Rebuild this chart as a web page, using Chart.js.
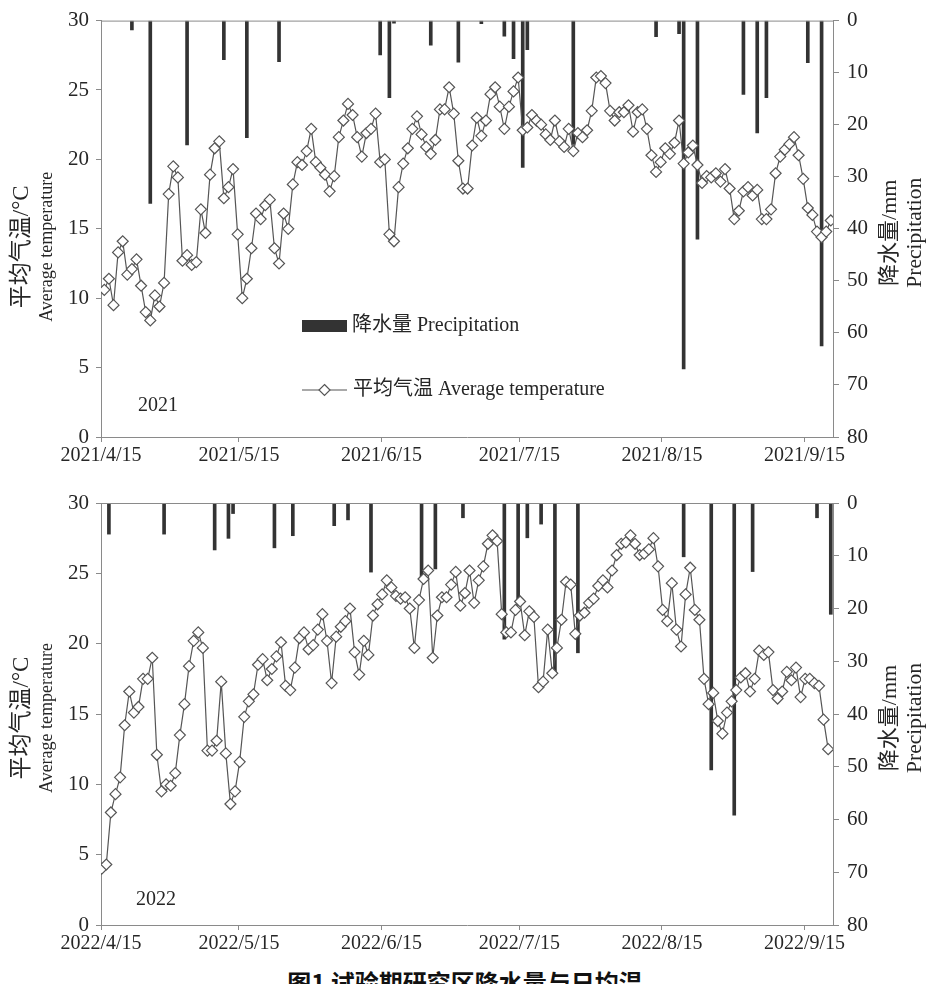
<!DOCTYPE html>
<html>
<head>
<meta charset="utf-8">
<script src="https://cdn.jsdelivr.net/npm/chart.js@4.4.1/dist/chart.umd.min.js"></script>
<style>
  body { margin: 0; background: #fff; width: 930px; height: 984px; overflow: hidden; position: relative; }
  canvas { position: absolute; left: 0; }
  #c2021 { top: 0; }
  #c2022 { top: 470px; }
  #caption { position: absolute; left: 0; top: 970px; width: 930px; text-align: center;
             font: bold 24px "Noto Sans CJK SC", sans-serif; line-height: 24px; color: #111; }
</style>
</head>
<body>
<canvas id="c2021" width="930" height="470"></canvas>
<canvas id="c2022" width="930" height="490"></canvas>
<div id="caption">图1 试验期研究区降水量与日均温</div>
<script>
// day offsets from 4/15 where the date ticks sit
const dayTicks = [0, 30, 61, 91, 122, 153];
const dates2021 = ['2021/4/15', '2021/5/15', '2021/6/15', '2021/7/15', '2021/8/15', '2021/9/15'];
const dates2022 = ['2022/4/15', '2022/5/15', '2022/6/15', '2022/7/15', '2022/8/15', '2022/9/15'];

// daily mean temperature (°C), one value per day from 4/15
const temp2021 = [
  10.6, 11.4, 9.5, 13.3, 14.1, 11.7, 12.1, 12.8, 10.9, 9.0, 8.4, 10.2, 9.4, 11.1, 17.5, 19.5, 18.7, 12.7, 13.1, 12.4,
  12.6, 16.4, 14.7, 18.9, 20.8, 21.3, 17.2, 18.0, 19.3, 14.6, 10.0, 11.4, 13.6, 16.1, 15.7, 16.7, 17.1, 13.6, 12.5, 16.1,
  15.0, 18.2, 19.8, 19.6, 20.6, 22.2, 19.8, 19.4, 18.9, 17.7, 18.8, 21.6, 22.8, 24.0, 23.2, 21.6, 20.2, 21.9, 22.2, 23.3,
  19.8, 20.0, 14.6, 14.1, 18.0, 19.7, 20.8, 22.2, 23.1, 21.8, 20.9, 20.4, 21.4, 23.6, 23.6, 25.2, 23.3, 19.9, 17.9, 17.9,
  21.0, 23.0, 21.7, 22.8, 24.7, 25.2, 23.8, 22.2, 23.8, 24.9, 25.9, 22.1, 22.3, 23.2, 22.8, 22.5, 21.8, 21.4, 22.8, 21.3,
  20.9, 22.2, 20.6, 21.9, 21.6, 22.1, 23.5, 25.9, 26.0, 25.5, 23.5, 22.8, 23.4, 23.4, 23.9, 22.0, 23.4, 23.6, 22.2, 20.3,
  19.1, 19.8, 20.8, 20.4, 21.2, 22.8, 19.7, 20.5, 21.0, 19.6, 18.3, 18.8, 18.7, 19.0, 18.4, 19.3, 17.9, 15.7, 16.3, 17.7,
  18.0, 17.4, 17.8, 15.7, 15.7, 16.4, 19.0, 20.2, 20.7, 21.1, 21.6, 20.3, 18.6, 16.5, 16.0, 14.8, 14.4, 14.8, 15.6
];
const temp2022 = [
  4.0, 4.3, 8.0, 9.3, 10.5, 14.2, 16.6, 15.1, 15.5, 17.5, 17.5, 19.0, 12.1, 9.5, 10.0, 9.9, 10.8, 13.5, 15.7, 18.4,
  20.2, 20.8, 19.7, 12.4, 12.4, 13.1, 17.3, 12.2, 8.6, 9.5, 11.6, 14.8, 15.9, 16.4, 18.5, 18.9, 17.4, 18.2, 19.1, 20.1,
  17.0, 16.7, 18.3, 20.4, 20.8, 19.6, 19.9, 21.0, 22.1, 20.2, 17.2, 20.5, 21.2, 21.6, 22.5, 19.4, 17.8, 20.2, 19.2, 22.0,
  22.8, 23.5, 24.5, 24.0, 23.4, 23.2, 23.3, 22.5, 19.7, 23.1, 24.6, 25.2, 19.0, 22.0, 23.3, 23.3, 24.2, 25.1, 22.7, 23.6,
  25.2, 22.9, 24.5, 25.5, 27.1, 27.7, 27.3, 22.1, 20.8, 20.8, 22.4, 23.0, 20.6, 22.3, 21.9, 16.9, 17.3, 21.0, 17.9, 19.7,
  21.7, 24.4, 24.2, 20.7, 22.0, 22.2, 22.9, 23.2, 24.1, 24.5, 24.0, 25.2, 26.3, 27.1, 27.2, 27.7, 27.1, 26.3, 26.4, 26.7,
  27.5, 25.5, 22.4, 21.6, 24.3, 21.0, 19.8, 23.5, 25.4, 22.4, 21.7, 17.5, 15.7, 16.5, 14.5, 13.6, 15.1, 15.9, 16.7, 17.6,
  17.9, 16.6, 17.5, 19.5, 19.2, 19.4, 16.7, 16.1, 16.6, 18.0, 17.4, 18.3, 16.2, 17.5, 17.5, 17.2, 17.0, 14.6, 12.5
];

// rainy days (day index from 4/15) and precipitation (mm)
const rainDay2021 = [6, 10, 18, 26, 31, 38, 60, 62, 63, 71, 77, 82, 87, 89, 91, 92, 102, 120, 125, 126, 129, 139, 142, 144, 153, 156];
const rainMm2021  = [1.8, 35.1, 23.9, 7.5, 22.5, 7.9, 6.6, 14.8, 0.5, 4.7, 8.0, 0.6, 3.0, 7.3, 28.2, 5.6, 23.8, 3.1, 2.5, 66.9, 42.0, 14.2, 21.6, 14.8, 8.1, 62.5];
const rainDay2022 = [1, 13, 24, 27, 28, 37, 41, 50, 53, 58, 69, 72, 78, 87, 90, 92, 95, 98, 103, 126, 132, 137, 141, 155, 158];
const rainMm2022  = [5.9, 5.9, 8.9, 6.7, 2.0, 8.5, 6.2, 4.3, 3.2, 13.1, 14.0, 12.5, 2.8, 25.8, 19.3, 6.6, 4.0, 32.6, 28.4, 10.2, 50.6, 59.2, 13.0, 2.8, 21.1];

const SERIF = '"Liberation Serif", "Times New Roman", "Noto Sans CJK SC", serif';
const AXIS = '#8a8a8a';
const INK = '#262626';
const BAR = '#333333';
const LINE = '#555555';

const decor = {
  id: 'decor',
  afterDraw(chart, _args, o) {
    const { ctx, chartArea: a } = chart;
    ctx.save();
    ctx.strokeStyle = AXIS;
    ctx.lineWidth = 1;
    ctx.beginPath();
    ctx.moveTo(a.left, a.top + 0.5);
    ctx.lineTo(a.right, a.top + 0.5);
    ctx.stroke();

    ctx.fillStyle = INK;
    ctx.textBaseline = 'middle';
    ctx.textAlign = 'left';
    ctx.font = '20px ' + SERIF;
    ctx.fillText(o.year, a.left + o.yearDx, a.bottom + o.yearDy);

    const vtext = (text, x, y, size) => {
      ctx.save();
      ctx.translate(x, y);
      ctx.rotate(-Math.PI / 2);
      ctx.font = size + 'px ' + SERIF;
      ctx.textAlign = 'center';
      ctx.fillText(text, 0, 0);
      ctx.restore();
    };
    const mid = (a.top + a.bottom) / 2;
    vtext('平均气温/°C', 22, mid + o.leftDy, 23);
    vtext('Average temperature', 47, mid + o.leftDy, 18);
    vtext('降水量/mm', 890, mid + 4, 22);
    vtext('Precipitation', 915, mid + 4, 21.5);

    if (o.legend) {
      ctx.fillStyle = BAR;
      ctx.fillRect(302, 320, 45, 12);
      ctx.fillStyle = INK;
      ctx.font = '20px ' + SERIF;
      ctx.fillText('降水量 Precipitation', 352, 326);
      ctx.strokeStyle = LINE;
      ctx.lineWidth = 1.2;
      ctx.beginPath();
      ctx.moveTo(302, 390);
      ctx.lineTo(347, 390);
      ctx.stroke();
      ctx.beginPath();
      ctx.moveTo(324.5, 384.5);
      ctx.lineTo(330, 390);
      ctx.lineTo(324.5, 395.5);
      ctx.lineTo(319, 390);
      ctx.closePath();
      ctx.fillStyle = '#fff';
      ctx.fill();
      ctx.stroke();
      ctx.fillStyle = INK;
      ctx.fillText('平均气温 Average temperature', 353, 390);
    }
    ctx.restore();
  }
};

function makePanel(id, opt) {
  new Chart(document.getElementById(id), {
    type: 'bar',
    data: {
      datasets: [
        {
          type: 'line',
          label: '平均气温 Average temperature',
          data: opt.temps.map((t, i) => ({ x: i + opt.tempShift, y: t })),
          yAxisID: 'y',
          order: 0,
          borderColor: LINE,
          borderWidth: 1.2,
          tension: 0,
          pointStyle: 'rectRot',
          pointRadius: 5.5,
          pointBackgroundColor: '#fff',
          pointBorderColor: LINE,
          pointBorderWidth: 1.2
        },
        {
          type: 'bar',
          label: '降水量 Precipitation',
          data: opt.rainDays.map((d, i) => ({ x: d + opt.barShift, y: opt.rainMm[i] })),
          yAxisID: 'yR',
          order: 1,
          backgroundColor: BAR,
          barThickness: 3
        }
      ]
    },
    options: {
      responsive: false,
      animation: false,
      events: [],
      layout: { padding: { top: opt.padTop, left: 0, right: 0, bottom: 0 } },
      plugins: {
        legend: { display: false },
        tooltip: { enabled: false },
        decor: opt.decor
      },
      scales: {
        x: {
          type: 'linear',
          offset: false,
          min: 0,
          max: 159.2,
          afterBuildTicks: s => { s.ticks = dayTicks.map(v => ({ value: v })); },
          afterFit: s => { s.height = opt.xHeight; },
          ticks: {
            autoSkip: false,
            maxRotation: 0,
            padding: 2,
            color: INK,
            font: { family: SERIF, size: 20 },
            callback: (v, i) => opt.dates[i]
          },
          grid: { offset: false, drawOnChartArea: false, tickLength: 5, color: AXIS },
          border: { color: AXIS }
        },
        y: {
          position: 'left',
          min: 0,
          max: 30,
          afterFit: s => { s.width = 101; },
          ticks: { stepSize: 5, padding: 7, color: INK, font: { family: SERIF, size: 21 } },
          grid: { drawOnChartArea: false, tickLength: 5, color: AXIS },
          border: { color: AXIS }
        },
        yR: {
          position: 'right',
          min: 0,
          max: 80,
          reverse: true,
          afterFit: s => { s.width = 97; },
          ticks: { stepSize: 10, padding: 8, color: INK, font: { family: SERIF, size: 21 } },
          grid: { drawOnChartArea: false, tickLength: 6, color: AXIS },
          border: { color: AXIS }
        }
      }
    },
    plugins: [decor]
  });
}

makePanel('c2021', {
  temps: temp2021, rainDays: rainDay2021, rainMm: rainMm2021, dates: dates2021,
  tempShift: 0.72, barShift: 0.72, padTop: 14, xHeight: 33,
  decor: { year: '2021', yearDx: 37, yearDy: -31, leftDy: 18, legend: true }
});
makePanel('c2022', {
  temps: temp2022, rainDays: rainDay2022, rainMm: rainMm2022, dates: dates2022,
  tempShift: 0.15, barShift: 0.72, padTop: 33, xHeight: 35,
  decor: { year: '2022', yearDx: 35, yearDy: -25, leftDy: 4, legend: false }
});
</script>
</body>
</html>
